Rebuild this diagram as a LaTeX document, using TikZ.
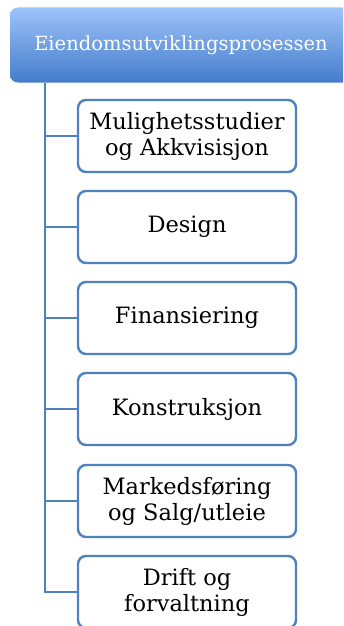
\documentclass[tikz,border=0pt]{standalone}
\usepackage{fontspec}
\setmainfont{DejaVu Serif}
\definecolor{ob}{RGB}{79,129,189}
\definecolor{gtop}{RGB}{157,195,250}
\definecolor{gbot}{RGB}{68,124,202}
\begin{document}
\begin{tikzpicture}[x=1pt,y=-1pt,
  childbox/.style={draw=ob, line width=2.4pt, rounded corners=8pt, fill=white,
    minimum width=218pt, minimum height=72pt, inner sep=0pt, align=center,
    font=\fontsize{22.5}{26}\selectfont, text=black},
  rootbox/.style={top color=gtop, bottom color=gbot, rounded corners=8pt,
    minimum width=342pt, minimum height=75pt, inner sep=0pt, text=white,
    font=\fontsize{19.5}{22}\selectfont},
  link/.style={draw=ob, line width=2.8pt}]
\useasboundingbox (0,0) rectangle (343,626);
\clip (0,0) rectangle (343,626);
\node[rootbox] (root) at (181,45) {Eiendomsutviklingsprosessen};
\node[childbox] (c1) at (187,136) {Mulighetsstudier\\og Akkvisisjon};
\node[childbox] (c2) at (187,227) {Design};
\node[childbox] (c3) at (187,318) {Finansiering};
\node[childbox] (c4) at (187,409) {Konstruksjon};
\node[childbox] (c5) at (187,501) {Markedsføring\\og Salg/utleie};
\node[childbox] (c6) at (187,592) {Drift og\\forvaltning};
\coordinate (t0) at (45,82.5);
\draw[link] (t0) |- (c6.west);
\foreach \c in {c1,c2,c3,c4,c5}
  \draw[link] (t0 |- \c.west) -- (\c.west);
\end{tikzpicture}
\end{document}
